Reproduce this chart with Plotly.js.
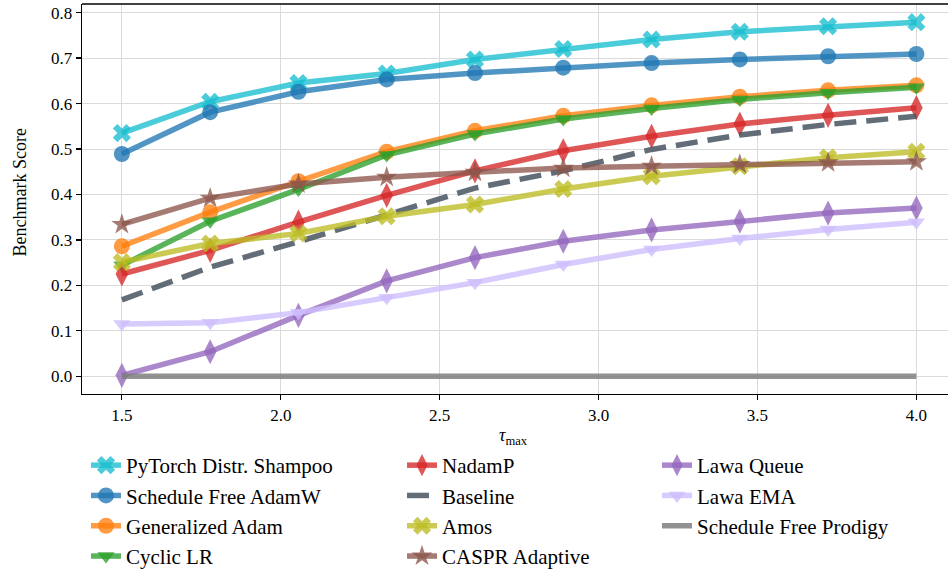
<!DOCTYPE html>
<html>
<head>
<meta charset="utf-8">
<script src="https://cdn.plot.ly/plotly-3.0.1.min.js"></script>
<style>body{margin:0;padding:0;background:#fff}#chart{width:948px;height:573px}</style>
</head>
<body>
<div id="chart"></div>
<script>
// tau_max values (x axis)
const tauMax = [1.5, 1.7778, 2.0556, 2.3333, 2.6111, 2.8889, 3.1667, 3.4444, 3.7222, 4.0];

// Benchmark scores per optimizer
const shampoo     = [0.535, 0.604, 0.645, 0.666, 0.697, 0.720, 0.741, 0.758, 0.770, 0.779];
const sfAdamW     = [0.489, 0.581, 0.626, 0.653, 0.667, 0.679, 0.689, 0.697, 0.704, 0.709];
const genAdam     = [0.286, 0.361, 0.429, 0.494, 0.540, 0.573, 0.596, 0.615, 0.629, 0.640];
const cyclicLR    = [0.244, 0.341, 0.411, 0.487, 0.533, 0.566, 0.589, 0.609, 0.624, 0.636];
const nadamP      = [0.225, 0.277, 0.339, 0.398, 0.452, 0.496, 0.528, 0.555, 0.574, 0.591];
const baseline    = [0.168, 0.240, 0.296, 0.356, 0.414, 0.452, 0.499, 0.531, 0.554, 0.572];
const amos        = [0.251, 0.292, 0.314, 0.352, 0.378, 0.412, 0.440, 0.462, 0.481, 0.494];
const caspr       = [0.334, 0.392, 0.423, 0.438, 0.449, 0.458, 0.462, 0.466, 0.470, 0.472];
const lawaQueue   = [0.002, 0.054, 0.134, 0.210, 0.261, 0.297, 0.322, 0.341, 0.359, 0.370];
const lawaEMA     = [0.115, 0.118, 0.140, 0.173, 0.206, 0.246, 0.279, 0.303, 0.323, 0.339];
const sfProdigy   = [0, 0, 0, 0, 0, 0, 0, 0, 0, 0];

const seriesNames = ["PyTorch Distr. Shampoo", "Schedule Free AdamW", "Generalized Adam", "Cyclic LR",
  "NadamP", "Baseline", "Amos", "CASPR Adaptive", "Lawa Queue", "Lawa EMA", "Schedule Free Prodigy"];

const yTicks = [0.0, 0.1, 0.2, 0.3, 0.4, 0.5, 0.6, 0.7, 0.8];
const xTicks = [1.5, 2.0, 2.5, 3.0, 3.5, 4.0];

const FONT = "Liberation Serif, Times New Roman, serif";

function tr(name, y, color, symbol, size, legendId, dash) {
  const t = {
    type: "scatter", mode: symbol ? "lines+markers" : "lines",
    x: tauMax, y: y, name: name, legend: legendId,
    line: {color: color, width: 5.5},
    hoverinfo: "x+y+name"
  };
  if (dash) t.line.dash = dash;
  if (symbol) t.marker = {symbol: symbol, size: size, color: color, line: {width: 0}};
  return t;
}

const traces = [
  tr(seriesNames[0], shampoo, "rgba(23,190,207,0.78)", "x", 16, "legend"),
  tr(seriesNames[1], sfAdamW, "rgba(31,119,180,0.78)", "circle", 16, "legend"),
  tr(seriesNames[2], genAdam, "rgba(255,127,14,0.78)", "circle", 16, "legend"),
  tr(seriesNames[3], cyclicLR, "rgba(44,160,44,0.78)", "triangle-down", 15, "legend"),
  tr(seriesNames[4], nadamP, "rgba(214,39,40,0.78)", "diamond-tall", 18, "legend2"),
  tr(seriesNames[5], baseline, "rgba(70,84,96,0.85)", null, 0, "legend2", "22px,10px"),
  tr(seriesNames[6], amos, "rgba(188,189,34,0.78)", "x", 16, "legend2"),
  tr(seriesNames[7], caspr, "rgba(140,86,75,0.78)", "star", 16, "legend2"),
  tr(seriesNames[8], lawaQueue, "rgba(148,103,189,0.78)", "diamond-tall", 18, "legend3"),
  tr(seriesNames[9], lawaEMA, "rgba(206,190,252,0.8)", "triangle-down", 15, "legend3"),
  tr(seriesNames[10], sfProdigy, "rgba(127,127,127,0.85)", null, 0, "legend3")
];

const legBase = {
  orientation: "v", xref: "container", yref: "container", xanchor: "left", yanchor: "top",
  y: 1 - 445 / 573, bgcolor: "rgba(0,0,0,0)", borderwidth: 0,
  font: {family: FONT, size: 21, color: "#000"}, tracegroupgap: 0, itemwidth: 30
};

const layout = {
  width: 948, height: 573,
  margin: {l: 82, r: 0, t: 4, b: 178.5, autoexpand: false},
  paper_bgcolor: "#fff", plot_bgcolor: "#fff",
  font: {family: FONT, color: "#000"},
  showlegend: true,
  legend: Object.assign({}, legBase, {x: 86 / 948}),
  legend2: Object.assign({}, legBase, {x: 402 / 948}),
  legend3: Object.assign({}, legBase, {x: 657 / 948}),
  xaxis: {
    range: [1.3745, 4.0995], tickvals: xTicks, ticktext: xTicks.map(v => v.toFixed(1)),
    showgrid: true, gridcolor: "#dadada", gridwidth: 1, zeroline: false,
    showline: true, linecolor: "#000", linewidth: 1.3, automargin: false,
    ticks: "outside", ticklen: 5, tickwidth: 1.2, tickcolor: "#000",
    tickfont: {family: FONT, size: 17, color: "#000"}
  },
  yaxis: {
    range: [-0.039, 0.819], tickvals: yTicks, ticktext: yTicks.map(v => v.toFixed(1)),
    showgrid: true, gridcolor: "#dadada", gridwidth: 1, zeroline: false,
    showline: true, linecolor: "#000", linewidth: 1.3, automargin: false,
    ticks: "outside", ticklen: 5, tickwidth: 1.2, tickcolor: "#000",
    tickfont: {family: FONT, size: 17, color: "#000"}
  },
  shapes: [
    {type: "line", xref: "paper", yref: "paper", x0: 0, x1: 1, y0: 1, y1: 1, line: {color: "#000", width: 1.3}}
  ],
  annotations: [
    {text: "<i>τ</i><sub>max</sub>", xref: "paper", yref: "paper", x: (513 - 82) / 866, y: (394.5 - 437) / 390.1,
     xanchor: "center", yanchor: "middle", showarrow: false, font: {family: FONT, size: 18, color: "#000"}},
    {text: "Benchmark Score", xref: "paper", yref: "paper", x: (20 - 82) / 866, y: (394.5 - 193) / 390.1,
     xanchor: "center", yanchor: "middle", textangle: -90, showarrow: false,
     font: {family: FONT, size: 18, color: "#000"}}
  ]
};

Plotly.newPlot("chart", traces, layout, {displayModeBar: false, staticPlot: true});
</script>
</body>
</html>
